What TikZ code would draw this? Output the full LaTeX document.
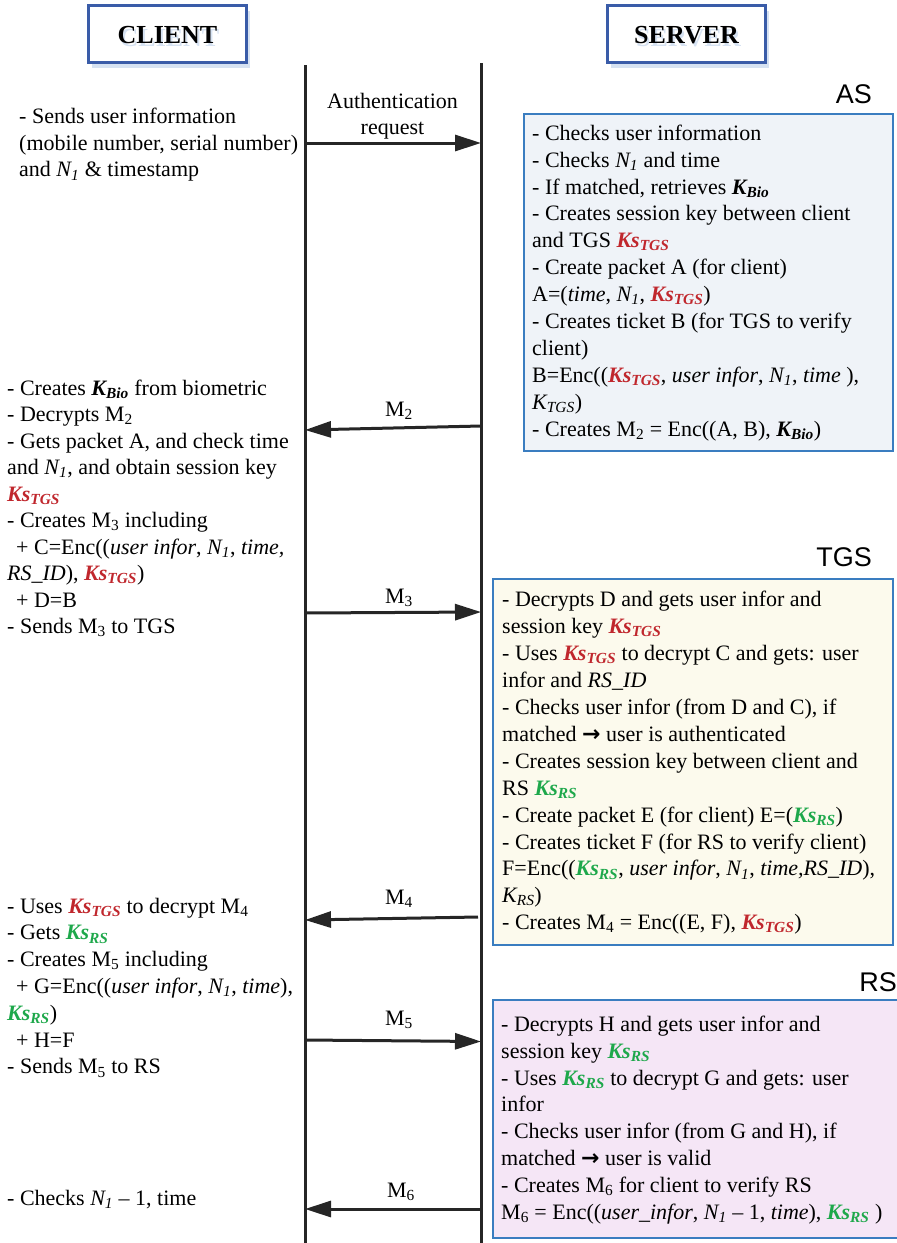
\documentclass[tikz,border=0pt]{standalone}
\usepackage{fontspec}
\setmainfont{Liberation Serif}
\newfontfamily\labelsans{Liberation Sans}
\newfontfamily\arrowfont{DejaVu Sans}
\usetikzlibrary{arrows.meta,shadows}

\definecolor{ksred}{RGB}{192,39,45}
\definecolor{ksgreen}{RGB}{30,168,75}
\definecolor{headblue}{RGB}{58,92,168}
\definecolor{headshadow}{RGB}{214,226,242}
\definecolor{boxblue}{RGB}{58,125,192}
\definecolor{asfill}{RGB}{239,243,248}
\definecolor{tgsfill}{RGB}{252,250,237}
\definecolor{rsfill}{RGB}{245,230,246}

% keys and values used in the protocol text
\newcommand{\kstgs}{\textcolor{ksred}{\textbf{\textit{Ks\textsubscript{TGS}}}}}
\newcommand{\ksrs}{\textcolor{ksgreen}{\textbf{\textit{Ks\textsubscript{RS}}}}}
\newcommand{\kbio}{\textbf{\textit{K\textsubscript{Bio}}}}
\newcommand{\ktgs}{\textit{K\textsubscript{TGS}}}
\newcommand{\krs}{\textit{K\textsubscript{RS}}}
\newcommand{\none}{\textit{N\textsubscript{1}}}
\newcommand{\impl}{{\arrowfont\bfseries →}}
\newcommand{\ind}{\hspace*{9pt}}
% header title with a pale offset copy behind it
\newcommand{\shadedtitle}[1]{\makebox[0pt][l]{\hspace{2pt}\raisebox{-3pt}{\textcolor{headshadow}{#1}}}#1}

\begin{document}
\begin{tikzpicture}[x=1pt,y=-1pt,
  headbox/.style={draw=headblue, line width=3.5pt, fill=white,
    minimum width=158pt, minimum height=57pt, inner sep=0pt,
    general shadow={fill=headshadow, shadow xshift=3pt, shadow yshift=-5pt}},
  headtext/.style={font=\fontsize{26}{30}\selectfont\bfseries, anchor=base, inner sep=0pt},
  lifeline/.style={line width=3pt, draw=black!85},
  msg/.style={line width=3pt, draw=black!85, -{Triangle[length=26pt,width=16pt]}},
  msglabel/.style={font=\fontsize{22}{26}\selectfont, anchor=base, inner sep=0pt},
  procbox/.style={draw=boxblue, line width=2pt, anchor=north west, inner sep=0pt},
  sidetag/.style={font=\labelsans\fontsize{27}{30}\selectfont, anchor=base east, inner sep=0pt},
  steps/.style={font=\fontsize{22}{#1}\selectfont, align=left, anchor=north west, inner sep=0pt},
  steps/.default=26.9,
]
\useasboundingbox (0,0) rectangle (897,1243);

% ---- party headers
\node[headbox] (clientbox) at (167.5,34) {};
\node[headtext] (clienttitle) at (167.5,43) {\shadedtitle{CLIENT}};
\node[headbox] (serverbox) at (686.5,34) {};
\node[headtext] (servertitle) at (686.5,43) {\shadedtitle{SERVER}};

% ---- server-side processing boxes
\node[procbox, fill=asfill, minimum width=369pt, minimum height=337pt] (asbox) at (523,113) {};
\node[procbox, fill=tgsfill, minimum width=400pt, minimum height=366pt] (tgsbox) at (492,578) {};
\node[procbox, fill=rsfill, minimum width=410pt, minimum height=238pt] (rsbox) at (492,999) {};

\node[sidetag] (astag) at (872,103) {AS};
\node[sidetag] (tgstag) at (872,566) {TGS};
\node[sidetag] (rstag) at (897,991) {RS};

% ---- lifelines
\coordinate (ctop) at (305,65);
\coordinate (cbot) at (305,1243);
\coordinate (stop) at (481,63);
\coordinate (sbot) at (481,1243);
\draw[lifeline] (ctop) -- (cbot);
\draw[lifeline] (stop) -- (sbot);

% ---- message end points on the lifelines
\coordinate (c1) at (305,143);  \coordinate (s1) at (481,143);
\coordinate (c2) at (305,430);  \coordinate (s2) at (481,426);
\coordinate (c3) at (305,613);  \coordinate (s3) at (481,612);
\coordinate (c4) at (305,920);  \coordinate (s4) at (478,917);
\coordinate (c5) at (305,1040); \coordinate (s5) at (481,1041.5);
\coordinate (c6) at (305,1209); \coordinate (s6) at (481,1209);

\draw[msg] (c1) -- (s1);
\draw[msg] (s2) -- (c2);
\draw[msg] (c3) -- (s3);
\draw[msg] (s4) -- (c4);
\draw[msg] (c5) -- (s5);
\draw[msg] (s6) -- (c6);

\node[msglabel, align=center, anchor=north] (reqlabel) at (392.5,89.8) {\strut Authentication\\request};
\node[msglabel] (m2label) at (399,416) {M\textsubscript{2}};
\node[msglabel] (m3label) at (399,603) {M\textsubscript{3}};
\node[msglabel] (m4label) at (399,904) {M\textsubscript{4}};
\node[msglabel] (m5label) at (399,1025) {M\textsubscript{5}};
\node[msglabel] (m6label) at (401,1197) {M\textsubscript{6}};

% ---- client-side steps
\node[steps=26.7] (cstep1) at (19,104.6) {\strut - Sends user information\\
(mobile number, serial number)\\
and \none{} \& timestamp};

\node[steps=26.5] (cstep2) at (7,376.45) {\strut - Creates \kbio{} from biometric\\
- Decrypts M\textsubscript{2}\\
- Gets packet A, and check time\\
and \none, and obtain session key\\
\kstgs\\
- Creates M\textsubscript{3} including\\
\ind + C=Enc((\textit{user infor}, \none, \textit{time,}\\
\textit{RS\_ID}), \kstgs)\\
\ind + D=B\\
- Sends M\textsubscript{3} to TGS};

\node[steps=26.8] (cstep3) at (7,894.2) {\strut - Uses \kstgs{} to decrypt M\textsubscript{4}\\
- Gets \ksrs\\
- Creates M\textsubscript{5} including\\
\ind + G=Enc((\textit{user infor}, \none, \textit{time}),\\
\ksrs)\\
\ind + H=F\\
- Sends M\textsubscript{5} to RS};

\node[steps, anchor=base west] (cstep4) at (7,1205) {- Checks \none{} -- 1, time};

% ---- server-side steps
\node[steps] (asteps) at (532,121.2) {\strut - Checks user information\\
- Checks \none{} and time\\
- If matched, retrieves \kbio\\
- Creates session key between client\\
and TGS \kstgs\\
- Create packet A (for client)\\
A=(\textit{time}, \none, \kstgs)\\
- Creates ticket B (for TGS to verify\\
client)\\
B=Enc((\kstgs, \textit{user infor}, \none, \textit{time} ),\\
\ktgs)\\
- Creates M\textsubscript{2} = Enc((A, B), \kbio)};

\node[steps] (tgssteps) at (502,587.9) {\strut - Decrypts D and gets user infor and\\
session key \kstgs\\
- Uses \kstgs{} to decrypt C and gets: user\\
infor and \textit{RS\_ID}\\
- Checks user infor (from D and C), if\\
matched \impl{} user is authenticated\\
- Creates session key between client and\\
RS \ksrs\\
- Create packet E (for client) E=(\ksrs)\\
- Creates ticket F (for RS to verify client)\\
F=Enc((\ksrs, \textit{user infor}, \none, \textit{time,RS\_ID}),\\
\krs)\\
- Creates M\textsubscript{4} = Enc((E, F), \kstgs)};

\node[steps] (rssteps) at (501,1012.2) {\strut - Decrypts H and gets user infor and\\
session key \ksrs\\
- Uses \ksrs{} to decrypt G and gets: user\\
infor\\
- Checks user infor (from G and H), if\\
matched \impl{} user is valid\\
- Creates M\textsubscript{6} for client to verify RS\\
M\textsubscript{6} = Enc((\textit{user\_infor}, \none{} -- 1, \textit{time}), \ksrs{} )};
\end{tikzpicture}
\end{document}
